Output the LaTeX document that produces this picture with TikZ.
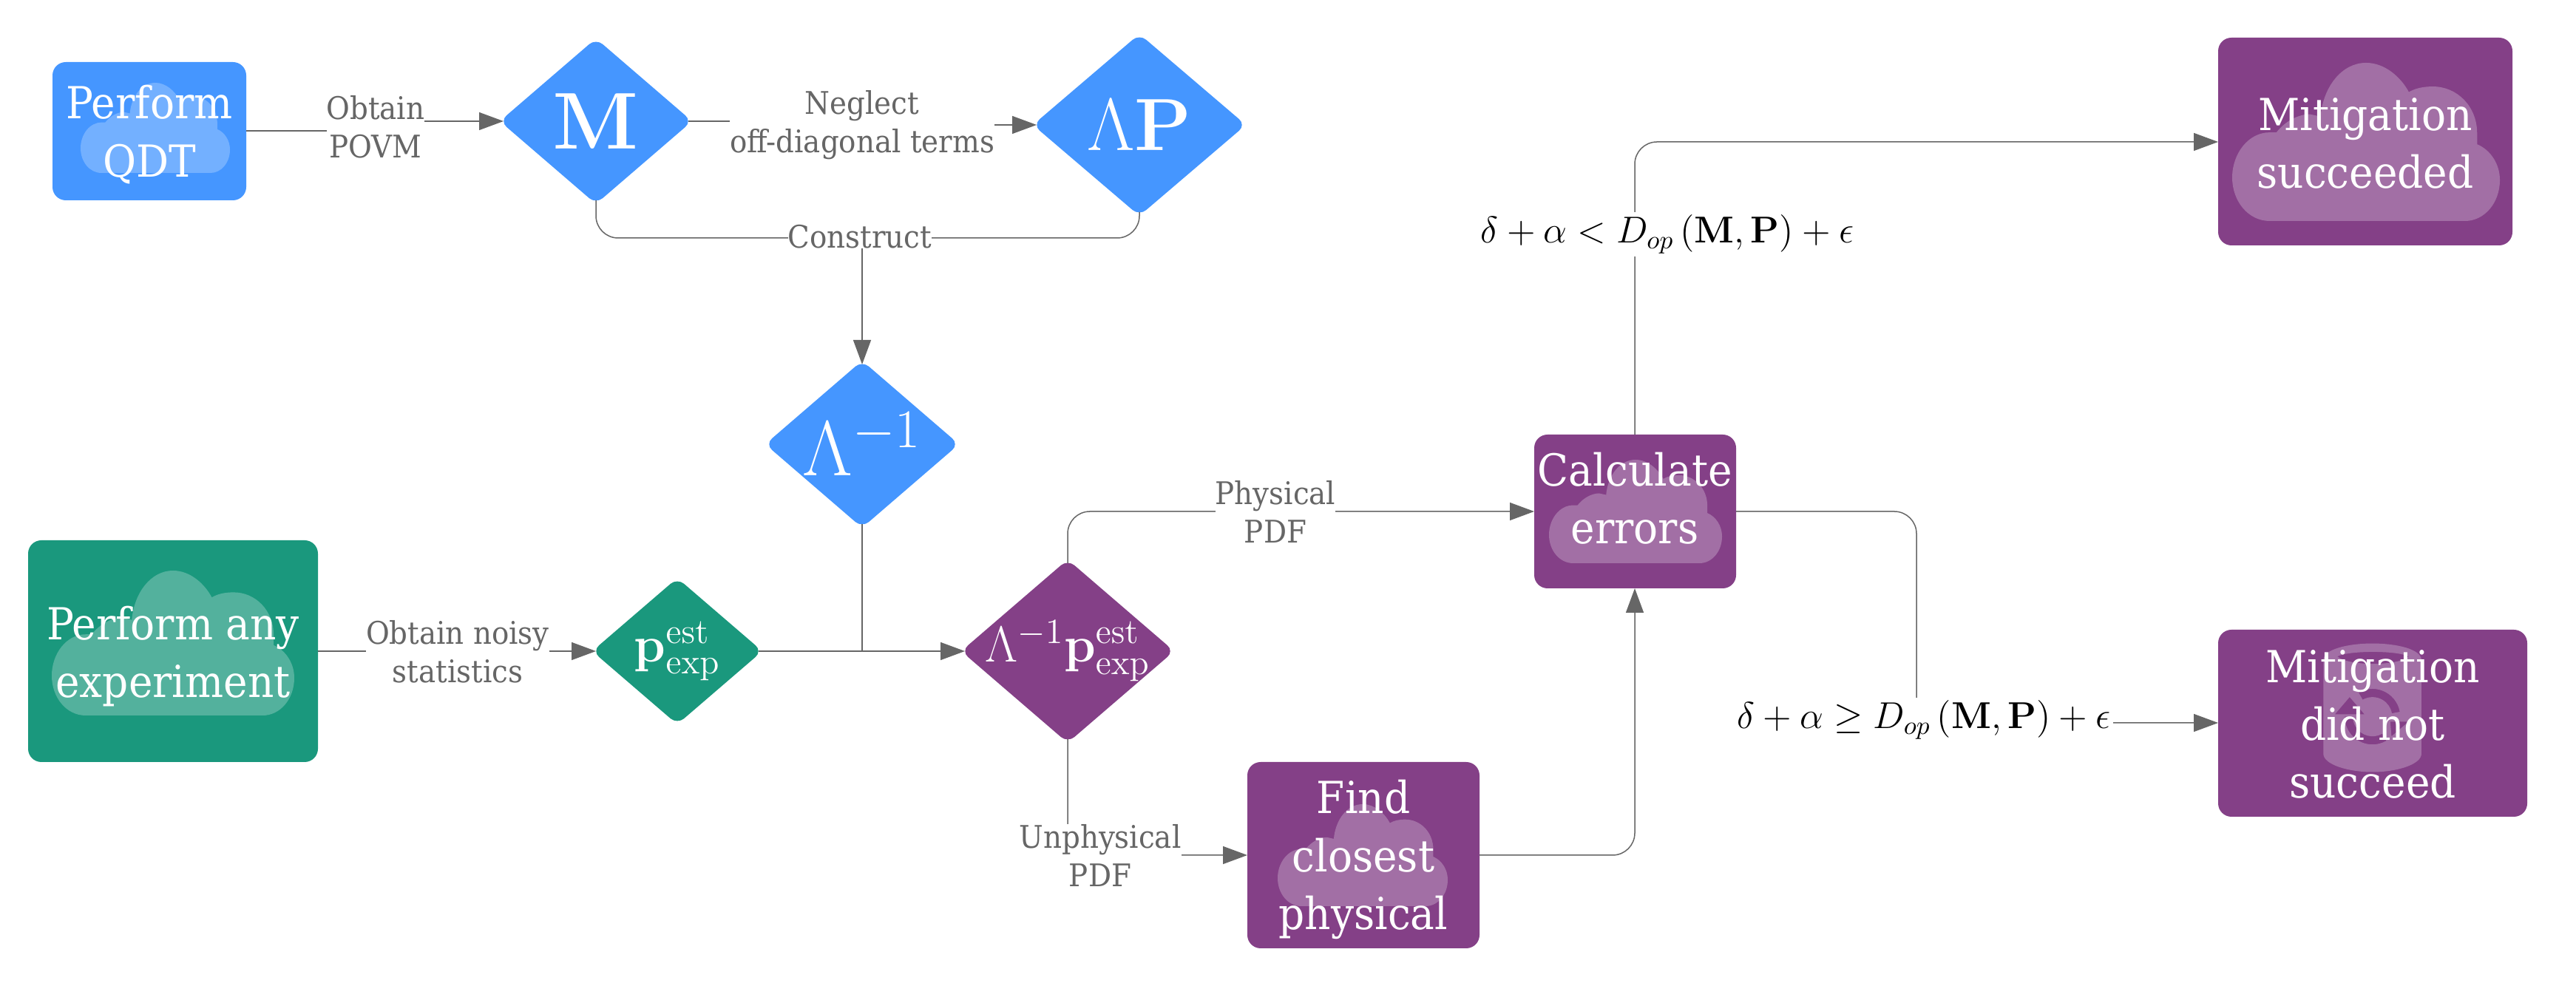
\documentclass[tikz,border=0pt]{standalone}
\usepackage{fix-cm}
\usepackage[no-math]{fontspec}
\setmainfont[FakeStretch=0.92]{DejaVu Serif}
\usetikzlibrary{arrows.meta}
\definecolor{qblue}{HTML}{4596FF}
\definecolor{qgreen}{HTML}{1A987D}
\definecolor{qpurple}{HTML}{844087}
\definecolor{qgray}{HTML}{666666}
\tikzset{
  boxnode/.style={rounded corners=0.18cm, inner sep=0pt, align=center, text=white, font=\fontsize{17}{22.3}\selectfont},
  dianode/.style={inner sep=0pt, text=white, font=\fontsize{19.5}{22}\selectfont},
  lblnode/.style={fill=white, inner sep=0pt, align=center, text=qgray, font=\fontsize{12}{14.8}\selectfont},
  condnode/.style={fill=white, inner sep=1pt, text=black, font=\fontsize{14.4}{18}\selectfont},
  link/.style={draw=qgray, line width=0.015cm, rounded corners=0.3cm},
  arrowlink/.style={link, -{Triangle[length=0.33cm, width=0.24cm]}},
  cloudicon/.pic={
    \fill[white, fill opacity=0.25] (-.72,-1) .. controls (-.88,-1) and (-1,-.75) .. (-1,-.45)
      .. controls (-1,-.15) and (-.88,.12) .. (-.72,.12) -- (-.67,.12)
      .. controls (-.6,.27) and (-.5,.35) .. (-.42,.35) -- (-.34,.32)
      .. controls (-.32,.7) and (-.18,1) .. (0,1)
      .. controls (.14,1) and (.26,.82) .. (.32,.63)
      .. controls (.37,.68) and (.43,.70) .. (.5,.70)
      .. controls (.68,.70) and (.83,.45) .. (.83,.11) -- (.83,-.03)
      .. controls (.93,-.1) and (1,-.28) .. (1,-.48)
      .. controls (1,-.78) and (.88,-1) .. (.74,-1) -- cycle;
  }
}
\newcommand{\diamondshape}[6]{% name, cx, cy, half width, half height, colour
  \fill[#6, rounded corners=0.12cm] (#2-#4,#3) -- (#2,#3+#5) -- (#2+#4,#3) -- (#2,#3-#5) -- cycle;
  \coordinate (#1) at (#2,#3);
  \coordinate (#1n) at (#2,#3+#5-0.05);
  \coordinate (#1s) at (#2,#3-#5+0.05);
  \coordinate (#1w) at (#2-#4+0.05,#3);
  \coordinate (#1e) at (#2+#4-0.05,#3);
}
\begin{document}
\begin{tikzpicture}
  \useasboundingbox (0,0) rectangle (34.84,13.34);

  % boxes
  \fill[qblue, rounded corners=0.18cm] (0.71,12.5) rectangle (3.33,10.63);
  \fill[qgreen, rounded corners=0.18cm] (0.38,6.03) rectangle (4.30,3.03);
  \fill[qpurple, rounded corners=0.18cm] (16.87,3.03) rectangle (20.01,0.51);
  \fill[qpurple, rounded corners=0.18cm] (20.75,7.46) rectangle (23.48,5.38);
  \fill[qpurple, rounded corners=0.18cm] (30.00,12.83) rectangle (33.98,10.02);
  \fill[qpurple, rounded corners=0.18cm] (30.00,4.82) rectangle (34.18,2.29);

  % clouds
  \path (2.10,11.61) pic[xscale=1.01, yscale=0.61] {cloudicon};
  \path (2.34,4.64) pic[xscale=1.64, yscale=0.98] {cloudicon};
  \path (18.43,1.77) pic[xscale=1.15, yscale=0.69] {cloudicon};
  \path (22.12,6.42) pic[xscale=1.17, yscale=0.70] {cloudicon};
  \path (32.00,11.42) pic[xscale=1.81, yscale=1.07] {cloudicon};

  % database icon
  \begin{scope}[shift={(29.5,5.14)}, x=0.003333cm, y=-0.003333cm]
    \fill[white, fill opacity=0.25, even odd rule]
      (578,220) .. controls (578,175) and (680,152) .. (778,152)
      .. controls (875,152) and (977,175) .. (977,220) -- (977,600)
      .. controls (977,645) and (875,675) .. (778,675)
      .. controls (680,675) and (578,645) .. (578,600) -- cycle
      (635,205) .. controls (680,180) and (880,180) .. (925,205)
      .. controls (880,245) and (680,245) .. (635,205) -- cycle
      (665,450) arc[start angle=180, end angle=60, radius=113]
      -- (818,519) arc[start angle=60, end angle=180, radius=80] -- cycle
      (889,430) arc[start angle=-10, end angle=-120, radius=113]
      -- (738,381) arc[start angle=-120, end angle=-10, radius=80] -- cycle
      (625,440) -- (685,370) -- (745,440) -- cycle
      (850,470) -- (925,470) -- (855,530) -- cycle;
  \end{scope}

  % diamonds
  \diamondshape{m}{8.06}{11.70}{1.30}{1.12}{qblue}
  \diamondshape{lp}{15.41}{11.65}{1.44}{1.23}{qblue}
  \diamondshape{li}{11.66}{7.33}{1.31}{1.13}{qblue}
  \diamondshape{pe}{9.16}{4.53}{1.15}{0.99}{qgreen}
  \diamondshape{lpe}{14.44}{4.53}{1.44}{1.24}{qpurple}

  % box texts
  \node[boxnode] (qdt) at (2.02,11.52) {Perform\\QDT};
  \node[boxnode] (exp) at (2.34,4.46) {Perform any\\experiment};
  \node[boxnode] (find) at (18.44,1.71) {Find\\closest\\physical};
  \node[boxnode] (calc) at (22.11,6.60) {Calculate\\errors};
  \node[boxnode] (succ) at (31.99,11.40) {Mitigation\\succeeded};
  \node[boxnode] (fail) at (32.09,3.54) {Mitigation\\did not\\succeed};

  % diamond texts
  \node[dianode, font=\fontsize{31}{31}\selectfont] (mtxt) at (m) {$\mathbf{M}$};
  \node[dianode, font=\fontsize{28.5}{31}\selectfont] (lptxt) at (lp) {$\Lambda\mathbf{P}$};
  \node[dianode, font=\fontsize{30}{30}\selectfont] (litxt) at (li) {$\Lambda^{-1}$};
  \node[dianode] (petxt) at (pe) {$\mathbf{p}_{\mathrm{exp}}^{\mathrm{est}}$};
  \node[dianode] (lpetxt) at (lpe) {$\Lambda^{-1}\mathbf{p}_{\mathrm{exp}}^{\mathrm{est}}$};

  % helper points
  \coordinate (qdte) at (3.33,11.57);
  \coordinate (expe) at (4.30,4.53);
  \coordinate (join) at (11.66,4.53);
  \coordinate (findw) at (16.87,1.77);
  \coordinate (finde) at (20.01,1.77);
  \coordinate (calcw) at (20.75,6.42);
  \coordinate (calce) at (23.48,6.42);
  \coordinate (calcn) at (22.11,7.46);
  \coordinate (calcs) at (22.11,5.38);
  \coordinate (succw) at (30.00,11.42);
  \coordinate (failw) at (30.00,3.56);
  \coordinate (cross) at (11.66,10.12);

  % connectors
  \draw[arrowlink, rounded corners=0pt] (qdte) -- (5.08,11.57) -- (5.08,11.70) -- (mw);
  \draw[arrowlink, rounded corners=0pt] (me) -- (11.66,11.70) -- (11.66,11.65) -- (lpw);
  \draw[link] (ms) |- (cross);
  \draw[link] (lps) |- (cross);
  \draw[arrowlink] (cross) -- (lin);
  \draw[arrowlink] (expe) -- (pew);
  \draw[arrowlink] (pee) -- (lpew);
  \draw[link] (lis) -- (join);
  \draw[arrowlink] (lpen) |- (calcw);
  \draw[arrowlink] (lpes) |- (findw);
  \draw[arrowlink] (finde) -| (calcs);
  \draw[arrowlink] (calcn) |- (succw);
  \draw[arrowlink] (calce) -| (25.92,3.56) -- (failw);

  % labels
  \node[lblnode] (l1) at (5.08,11.62) {Obtain\\POVM};
  \node[lblnode] (l2) at (11.66,11.65) {Neglect\\off-diagonal terms};
  \node[lblnode] (l3) at (11.63,10.14) {Construct};
  \node[lblnode] (l4) at (6.19,4.52) {Obtain noisy\\statistics};
  \node[lblnode] (l5) at (17.25,6.42) {Physical\\PDF};
  \node[lblnode] (l6) at (14.88,1.77) {Unphysical\\PDF};
  \node[condnode] (c1) at (22.55,10.17) {$\delta+\alpha<D_{op}\left(\mathbf{M},\mathbf{P}\right)+\epsilon$};
  \node[condnode] (c2) at (26.02,3.60) {$\delta+\alpha\geq D_{op}\left(\mathbf{M},\mathbf{P}\right)+\epsilon$};
\end{tikzpicture}
\end{document}
